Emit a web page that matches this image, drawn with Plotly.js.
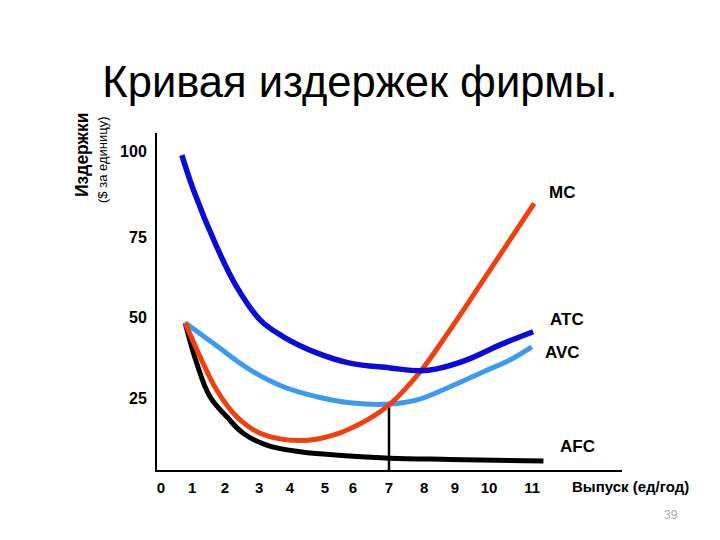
<!DOCTYPE html>
<html>
<head>
<meta charset="utf-8">
<script src="https://cdn.plot.ly/plotly-3.0.1.min.js"></script>
<style>html,body{margin:0;padding:0;background:#fff;}#chart{width:720px;height:540px;}</style>
</head>
<body>
<div id="chart"></div>
<script>
// Output (units/year) and costs ($ per unit)
const atcX = [0.75, 1.10, 1.80, 2.40, 3.11, 3.80, 4.82, 5.82, 7.03, 7.94, 8.44, 9.35, 10.35, 11.35];
const atcY = [98.4, 87.5, 69.8, 57.3, 46.9, 41.7, 36.6, 33.4, 31.9, 31.0, 31.6, 34.4, 39.1, 43.2];

const avcX = [0.85, 1.80, 2.81, 3.81, 4.82, 5.82, 7.03, 7.84, 8.84, 9.85, 10.65, 11.31];
const avcY = [46.0, 38.8, 31.3, 26.0, 22.9, 21.0, 20.6, 21.9, 26.0, 30.7, 34.4, 38.5];

const mcX = [0.85, 1.30, 1.80, 2.40, 3.11, 4.32, 5.32, 6.33, 7.03, 7.94, 8.84, 9.85, 10.65, 11.38];
const mcY = [46.0, 35.4, 25.0, 16.7, 11.5, 9.2, 10.9, 15.6, 20.6, 30.7, 43.8, 59.4, 71.9, 83.3];

const afcX = [0.85, 1.20, 1.60, 2.10, 2.60, 3.31, 4.32, 5.82, 7.03, 8.84, 11.66];
const afcY = [46.0, 33.3, 22.9, 16.7, 11.5, 7.8, 5.7, 4.4, 3.7, 3.3, 2.8];

// Vertical marker at the AVC minimum
const minX = [7.0, 7.0];
const minY = [0, 20.6];

// Tick labels
const xTickVals = [0.12, 1.06, 2.05, 3.08, 4.01, 5.07, 5.91, 7.0, 8.06, 8.99, 10.02, 11.32];
const xTickText = ["0", "1", "2", "3", "4", "5", "6", "7", "8", "9", "10", "11"];
const yTickVals = [22.5, 47.8, 72.8, 99.4];
const yTickText = ["25", "50", "75", "100"];

// Curve labels
const curveNames = ["MC", "ATC", "AVC", "AFC"];
const labelX = [12.22, 12.38, 12.22, 12.70];
const labelY = [86.6, 46.9, 36.6, 7.2];

const FONT = "Arial, 'Liberation Sans', sans-serif";

function curve(x, y, color, w) {
  return {x: x, y: y, type: "scatter", mode: "lines",
          line: {color: color, width: w, shape: "spline", smoothing: 1.1},
          hoverinfo: "skip", showlegend: false};
}

const traces = [
  {x: minX, y: minY, type: "scatter", mode: "lines", line: {color: "#000", width: 2.5}, showlegend: false, hoverinfo: "skip"},
  curve(afcX, afcY, "#000000", 5),
  curve(avcX, avcY, "#3D9BEF", 5),
  curve(mcX, mcY, "#F0400F", 5),
  curve(atcX, atcY, "#0B0BD9", 5.5)
];

const annotations = curveNames.map((t, i) => ({
  x: labelX[i], y: labelY[i], xref: "x", yref: "y", text: "<b>" + t + "</b>",
  showarrow: false, font: {family: FONT, size: 17, color: "#000"}, xanchor: "center", yanchor: "middle"
}));

annotations.push(
  {x: 82, y: 155, text: "<b>Издержки</b>", textangle: -90, showarrow: false,
   font: {family: FONT, size: 17.5, color: "#000"}},
  {x: 102, y: 160, text: "($ за единицу)", textangle: -90, showarrow: false,
   font: {family: FONT, size: 13, color: "#000"}},
  {x: 630, y: 486, text: "<b>Выпуск (ед/год)</b>", showarrow: false,
   font: {family: FONT, size: 15, color: "#000"}},
  {x: 671, y: 515, text: "39", showarrow: false,
   font: {family: FONT, size: 12, color: "#AAAAAA"}}
);

// convert pixel-placed annotations to paper coords
const L = 157, R = 98, T = 133, B = 70, W = 720, H = 540;
const pw = W - L - R, ph = H - T - B;
annotations.forEach((a, i) => {
  if (i >= curveNames.length) {
    a.xref = "paper"; a.yref = "paper";
    a.x = (a.x - L) / pw;
    a.y = (H - B - a.y) / ph;
    a.xanchor = "center"; a.yanchor = "middle";
  }
});

const layout = {
  width: W, height: H,
  margin: {l: L, r: R, t: T, b: B, pad: 0},
  paper_bgcolor: "#fff", plot_bgcolor: "#fff",
  title: {text: "Кривая издержек фирмы.", x: 0.5, xref: "container", y: 1 - 82 / 540, yref: "container",
          xanchor: "center", yanchor: "middle", font: {family: FONT, size: 43.5, color: "#000"}},
  xaxis: {range: [0, 14.03], showgrid: false, zeroline: false, showline: true, linecolor: "#000", linewidth: 2,
          tickmode: "array", tickvals: xTickVals, ticktext: xTickText, ticks: "",
          ticklabelstandoff: 3, tickfont: {family: FONT, size: 15, color: "#000", weight: "bold"}},
  yaxis: {range: [0, 105.3], showgrid: false, zeroline: false, showline: true, linecolor: "#000", linewidth: 2,
          tickmode: "array", tickvals: yTickVals, ticktext: yTickText, ticks: "",
          ticklabelstandoff: 5, tickfont: {family: FONT, size: 16, color: "#000", weight: "bold"}},
  annotations: annotations,
  showlegend: false
};

Plotly.newPlot("chart", traces, layout, {displayModeBar: false, staticPlot: true});
</script>
</body>
</html>
